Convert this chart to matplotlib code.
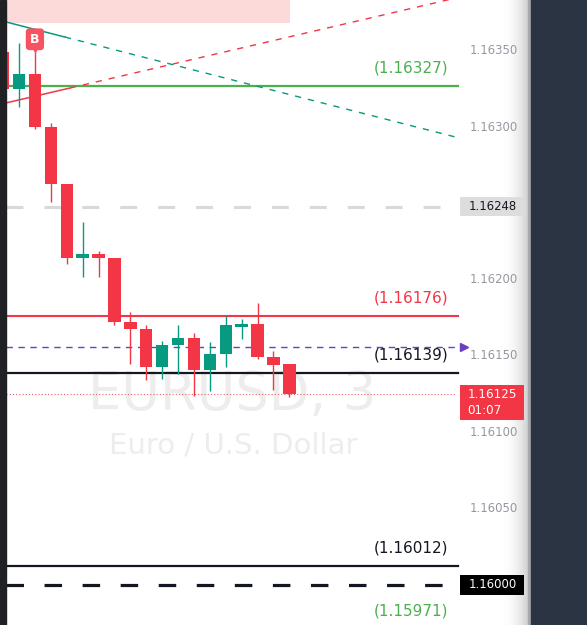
import matplotlib
matplotlib.use("Agg")
import matplotlib.pyplot as plt
import matplotlib.transforms as mtransforms
from matplotlib.patches import Rectangle
import numpy as np

plt.rcParams["lines.scale_dashes"] = False
plt.rcParams["font.family"] = ["DejaVu Sans"]

# ─────────────────────────────────────────────
# EURUSD, 3 min candles
# ─────────────────────────────────────────────
opens  = [1.16349, 1.16325, 1.16335, 1.16300, 1.16263, 1.16214, 1.16217, 1.16214, 1.16172, 1.16168,
          1.16143, 1.16157, 1.16162, 1.16141, 1.16151, 1.16169, 1.16171, 1.16149, 1.16145]
highs  = [1.16352, 1.16355, 1.16349, 1.16303, 1.16263, 1.16238, 1.16219, 1.16214, 1.16179, 1.16170,
          1.16160, 1.16170, 1.16165, 1.16159, 1.16176, 1.16174, 1.16185, 1.16153, 1.16145]
lows   = [1.16322, 1.16313, 1.16299, 1.16251, 1.16210, 1.16202, 1.16202, 1.16170, 1.16145, 1.16134,
          1.16135, 1.16138, 1.16124, 1.16127, 1.16143, 1.16161, 1.16148, 1.16128, 1.16123]
closes = [1.16325, 1.16335, 1.16300, 1.16263, 1.16214, 1.16217, 1.16214, 1.16172, 1.16168, 1.16143,
          1.16157, 1.16162, 1.16141, 1.16151, 1.16170, 1.16171, 1.16149, 1.16144, 1.16125]

# levels drawn on the chart
level_tp_high = 1.16327   # green
level_sell    = 1.16176   # red
level_entry   = 1.16139   # black
level_tp_low  = 1.16012   # black
level_sl_low  = 1.15971   # green (line below view)
round_level   = 1.16000
prev_close    = 1.16248
alert_level   = 1.16156
last_price    = 1.16125
countdown     = "01:07"

tick_prices = [1.16350, 1.16300, 1.16200, 1.16150, 1.16100, 1.16050]

# trendlines: two anchor points (candle index, price) + extension end index
green_trend = [(0.18, 1.163690), (3.89, 1.163591)]
red_trend   = [(0.18, 1.163159), (4.21, 1.163257)]
trend_ext_x = 28.5

zone_top, zone_bottom, zone_end = 1.1639, 1.163683, 18.04

RED = "#f23645"
GREEN = "#089981"
LGREEN = "#4caf50"
BLACK = "#131722"
PURPLE = "#6a3fc4"

# ─────────────────────────────────────────────
# Figure layout
# ─────────────────────────────────────────────
W, H = 587, 625
fig = plt.figure(figsize=(W / 100, H / 100), dpi=100, facecolor="white")

# fading edge of the price scale
gax = fig.add_axes([500 / W, 0, 29 / W, 1])
g = np.linspace(0, 1, 80) ** 2.2
gax.imshow(np.tile(1 - 0.2 * g, (2, 1)), cmap="gray", vmin=0, vmax=1,
           aspect="auto", extent=[0, 1, 0, 1])
gax.axis("off")

ax = fig.add_axes([6 / W, 0, 525 / W, 1])
ax.set_facecolor("none")
ax.axis("off")
ax.set_xlim(0.182, 33.2)
ax.set_ylim(1.159736, 1.163834)
trans = mtransforms.blended_transform_factory(ax.transAxes, ax.transData)

# side panels
fig.patches.append(Rectangle((0, 0), 6 / W, 1, transform=fig.transFigure, color="#202124", zorder=5))
fig.patches.append(Rectangle((528 / W, 0), 3 / W, 1, transform=fig.transFigure, color="#a7a9ad", zorder=5))
fig.patches.append(Rectangle((531 / W, 0), 56 / W, 1, transform=fig.transFigure, color="#2a3443", zorder=5))

# watermark
ax.text(0.4314, 0.344, "EURUSD, 3", transform=ax.transAxes, ha="center", va="baseline",
        fontsize=38, color="#ededed", zorder=0)
ax.text(0.432, 0.2752, "Euro / U.S. Dollar", transform=ax.transAxes, ha="center", va="baseline",
        fontsize=21, color="#ededed", zorder=0)

# supply zone
ax.add_patch(Rectangle((-1, zone_bottom), zone_end + 1, zone_top - zone_bottom,
                       color="#fddada", lw=0, zorder=1))

# ─────────────────────────────────────────────
# Horizontal levels
# ─────────────────────────────────────────────
LINE_END = 0.861
ax.axhline(prev_close, xmax=0.836, color="#d9d9d9", lw=2.2, ls=(0, (12.2, 15.1)), zorder=2)
ax.axhline(level_tp_high, xmax=LINE_END, color=LGREEN, lw=1.6, zorder=2)
ax.axhline(level_sell, xmax=LINE_END, color=RED, lw=1.5, zorder=2)
ax.axhline(alert_level, xmax=LINE_END, color=PURPLE, lw=1.0, ls=(0, (4.6, 4.0)), zorder=2)
ax.axhline(level_entry, xmax=LINE_END, color=BLACK, lw=1.6, zorder=2)
ax.axhline(last_price, xmax=0.855, color=RED, lw=0.8, ls=(0, (0.8, 1.5)), alpha=0.8, zorder=2)
ax.axhline(level_tp_low, xmax=LINE_END, color=BLACK, lw=1.6, zorder=2)
ax.axhline(round_level, xmax=0.836, color=BLACK, lw=2.3, ls=(0, (12.6, 14.8)), zorder=2)
ax.axhline(level_sl_low, xmax=LINE_END, color=LGREEN, lw=1.6, zorder=2)
ax.plot([0.872], [alert_level], marker=">", ms=6, color=PURPLE, transform=trans, zorder=6, clip_on=False)

for price, col in [(level_tp_high, LGREEN), (level_sell, RED), (level_entry, BLACK),
                   (level_tp_low, BLACK), (level_sl_low, LGREEN)]:
    ax.annotate(f"({price:.5f})", xy=(0.842, price), xycoords=trans, xytext=(0, 13),
                textcoords="offset points", ha="right", va="center", fontsize=11,
                color=col, zorder=6, annotation_clip=False)

# ─────────────────────────────────────────────
# Trendlines
# ─────────────────────────────────────────────
for pts, col in [(green_trend, GREEN), (red_trend, RED)]:
    (x0, y0), (x1, y1) = pts
    slope = (y1 - y0) / (x1 - x0)
    ax.plot([x0, x1], [y0, y1], color=col, lw=1.1, zorder=2)
    ax.plot([x1, trend_ext_x], [y1, y1 + slope * (trend_ext_x - x1)], color=col, lw=1.0,
            ls=(0, (4.5, 5)), zorder=2)

# ─────────────────────────────────────────────
# Candles
# ─────────────────────────────────────────────
for i, (o, h, l, c) in enumerate(zip(opens, highs, lows, closes)):
    col = GREEN if c >= o else RED
    ax.vlines(i, l, h, color=col, lw=1, zorder=3)
    body = max(abs(c - o), 0.000013)
    ax.bar(i, body, bottom=min(o, c), width=0.78, color=col, lw=0, zorder=4)

# buy marker on candle 2
ax.annotate("B", xy=(2, highs[2]), xytext=(0, 9.5), textcoords="offset points",
            ha="center", va="center", fontsize=9, fontweight="bold", color="white", zorder=7,
            bbox=dict(boxstyle="round,pad=0.35,rounding_size=0.3", fc="#f7525f", ec="none"))
ax.plot([2], [highs[2]], marker="v", ms=5, color="#f7525f", zorder=7,
        transform=ax.transData + mtransforms.ScaledTranslation(0, 3 / 100, fig.dpi_scale_trans))

# ─────────────────────────────────────────────
# Price scale
# ─────────────────────────────────────────────
for p in tick_prices:
    ax.text(0.9295, p, f"{p:.5f}", transform=trans, ha="center", va="center",
            fontsize=8.4, color="#9598a1", zorder=6)

BOX_X, BOX_W = 0.865, 0.1219
ax.add_patch(Rectangle((BOX_X, prev_close - 0.0000623), BOX_W, 0.0001246, transform=trans,
                       color="#dddddd", lw=0, zorder=6))
ax.text(0.9265, prev_close, f"{prev_close:.5f}", transform=trans, ha="center", va="center",
        fontsize=8.4, color=BLACK, zorder=7)

ax.add_patch(Rectangle((BOX_X, round_level - 0.0000656), BOX_W, 0.0001312, transform=trans,
                       color="black", lw=0, zorder=6))
ax.text(0.9265, round_level, f"{round_level:.5f}", transform=trans, ha="center", va="center",
        fontsize=8.4, color="white", zorder=7)

ax.add_patch(Rectangle((BOX_X, last_price - 0.00017), BOX_W, 0.000229, transform=trans,
                       color=RED, lw=0, zorder=6))
ax.text(0.9265, last_price, f"{last_price:.5f}", transform=trans, ha="center", va="center",
        fontsize=8.6, color="white", zorder=7)
ax.annotate(countdown, xy=(0.9265, last_price), xycoords=trans, xytext=(-6, -11.5),
            textcoords="offset points", ha="center", va="center", fontsize=8.6,
            color="white", zorder=7)

fig.savefig("out.png", dpi=100, facecolor="white")
